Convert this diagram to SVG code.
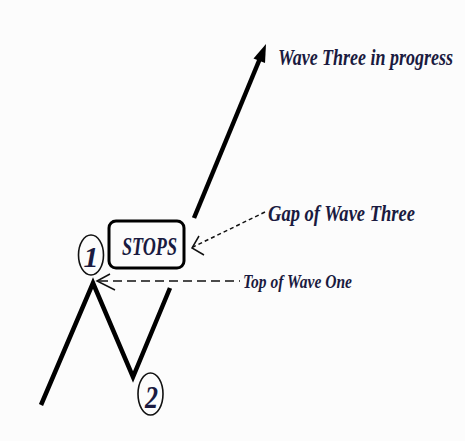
<svg xmlns="http://www.w3.org/2000/svg" width="465" height="441" viewBox="0 0 465 441">
  <style>
    .lbl { font-family: "Liberation Serif", "Times New Roman", serif; font-style: italic; font-weight: bold; fill: #1a1a40; }
    .wave { fill: none; stroke: #000; stroke-width: 4.5; stroke-linejoin: miter; stroke-linecap: butt; }
    .ring { fill: none; stroke: #111; stroke-width: 1.6; }
    .thin { fill: none; stroke: #111; stroke-width: 1.5; }
  </style>
  <rect width="465" height="441" fill="#fcfcfc"/>
  <g id="connectors">
    <polyline class="wave" points="41,405 93,283 133,377 170,288"/>
    <line class="wave" x1="194" y1="218" x2="261" y2="56"/>
    <polygon points="266,44 265,63 253.5,58.5" fill="#000"/>
    <line class="thin" x1="265" y1="212" x2="193" y2="247" stroke-dasharray="4 3"/>
    <polyline class="thin" points="199,236 192,248 204,255"/>
    <line class="thin" x1="99" y1="281" x2="240" y2="281" stroke-width="2" stroke-dasharray="9 5"/>
    <polyline class="thin" points="110,274 97,281 115,290"/>
  </g>
  <g id="wave-three-label">
    <text class="lbl" transform="translate(278,65) scale(1,1.3)" x="0" y="0" font-size="17.5" textLength="175" lengthAdjust="spacingAndGlyphs">Wave Three in progress</text>
  </g>
  <g id="gap-label">
    <text class="lbl" x="268" y="221" font-size="24" textLength="147" lengthAdjust="spacingAndGlyphs">Gap of Wave Three</text>
  </g>
  <g id="top-label">
    <text class="lbl" x="243" y="288" font-size="19" textLength="109" lengthAdjust="spacingAndGlyphs">Top of Wave One</text>
  </g>
  <g id="stops">
    <rect x="109" y="221" width="75" height="47" rx="7" fill="none" stroke="#000" stroke-width="3"/>
    <text class="lbl" x="122" y="255" font-size="25" textLength="55" lengthAdjust="spacingAndGlyphs">STOPS</text>
  </g>
  <g id="point-1">
    <ellipse class="ring" cx="91" cy="255" rx="12.5" ry="20"/>
    <text class="lbl" x="91" y="267" font-size="30" text-anchor="middle" fill="#000">1</text>
  </g>
  <g id="point-2">
    <ellipse class="ring" cx="150.5" cy="394" rx="12.5" ry="21"/>
    <text class="lbl" x="145" y="408" font-size="32" textLength="13" lengthAdjust="spacingAndGlyphs">2</text>
  </g>
</svg>
